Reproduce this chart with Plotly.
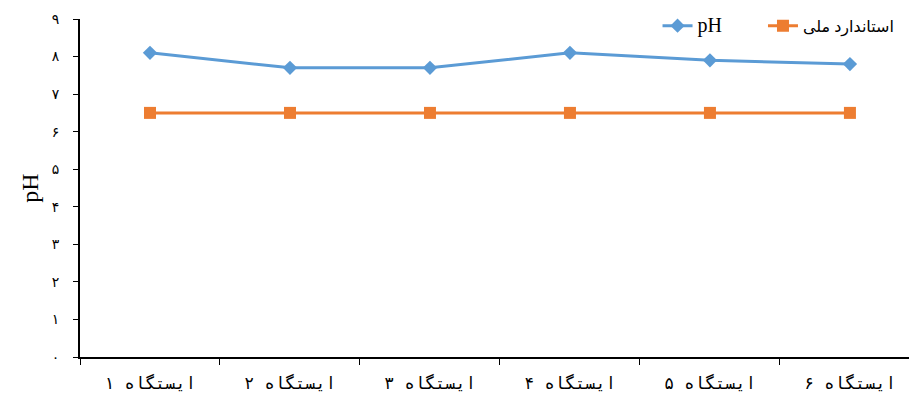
import plotly.graph_objects as go

categories = ["ایستگاه ۱", "ایستگاه ۲", "ایستگاه ۳", "ایستگاه ۴", "ایستگاه ۵", "ایستگاه ۶"]
ph_values = [8.1, 7.7, 7.7, 8.1, 7.9, 7.8]
standard_values = [6.5, 6.5, 6.5, 6.5, 6.5, 6.5]
y_tickvals = [0, 1, 2, 3, 4, 5, 6, 7, 8, 9]
y_ticktext = ["۰", "۱", "۲", "۳", "۴", "۵", "۶", "۷", "۸", "۹"]

fig = go.Figure()
fig.add_trace(go.Scatter(
    x=categories, y=ph_values,
    name="<span style='font-size:20px'>pH</span>" + "\u00a0" * 9,
    mode="lines+markers",
    line=dict(color="#5B9BD5", width=3),
    marker=dict(symbol="diamond", size=11, color="#5B9BD5"),
))
fig.add_trace(go.Scatter(
    x=categories, y=standard_values, name="استاندارد ملی", mode="lines+markers",
    line=dict(color="#ED7D31", width=3),
    marker=dict(symbol="square", size=12, color="#ED7D31"),
))

fig.update_layout(
    width=909, height=393,
    margin=dict(l=72, r=0, t=11, b=44, autoexpand=False),
    paper_bgcolor="white", plot_bgcolor="white",
    font=dict(family="Liberation Serif, DejaVu Sans", color="black", size=14),
    legend=dict(orientation="h", x=0.69, xanchor="left", y=0.98, yanchor="middle",
                font=dict(size=16, family="Liberation Serif, DejaVu Sans"),
                bgcolor="rgba(0,0,0,0)"),
    xaxis=dict(
        type="category", tickson="boundaries", ticks="outside", ticklen=6,
        tickcolor="black", tickwidth=1,
        showline=True, linecolor="black", linewidth=2,
        showgrid=False, zeroline=False, automargin=False,
        ticklabelstandoff=10,
        tickfont=dict(family="DejaVu Sans Mono", size=17),
        range=[-0.5, 5.479],
    ),
    yaxis=dict(
        range=[0, 9], tickvals=y_tickvals, ticktext=y_ticktext,
        ticks="outside", ticklen=5, tickcolor="black", tickwidth=1,
        showline=True, linecolor="black", linewidth=2,
        showgrid=False, zeroline=False, automargin=False,
        ticklabelstandoff=11,
        tickfont=dict(family="DejaVu Sans", size=14),
        title=dict(text="pH", font=dict(family="Liberation Serif", size=24), standoff=6),
    ),
)

fig.write_html("out.html")
